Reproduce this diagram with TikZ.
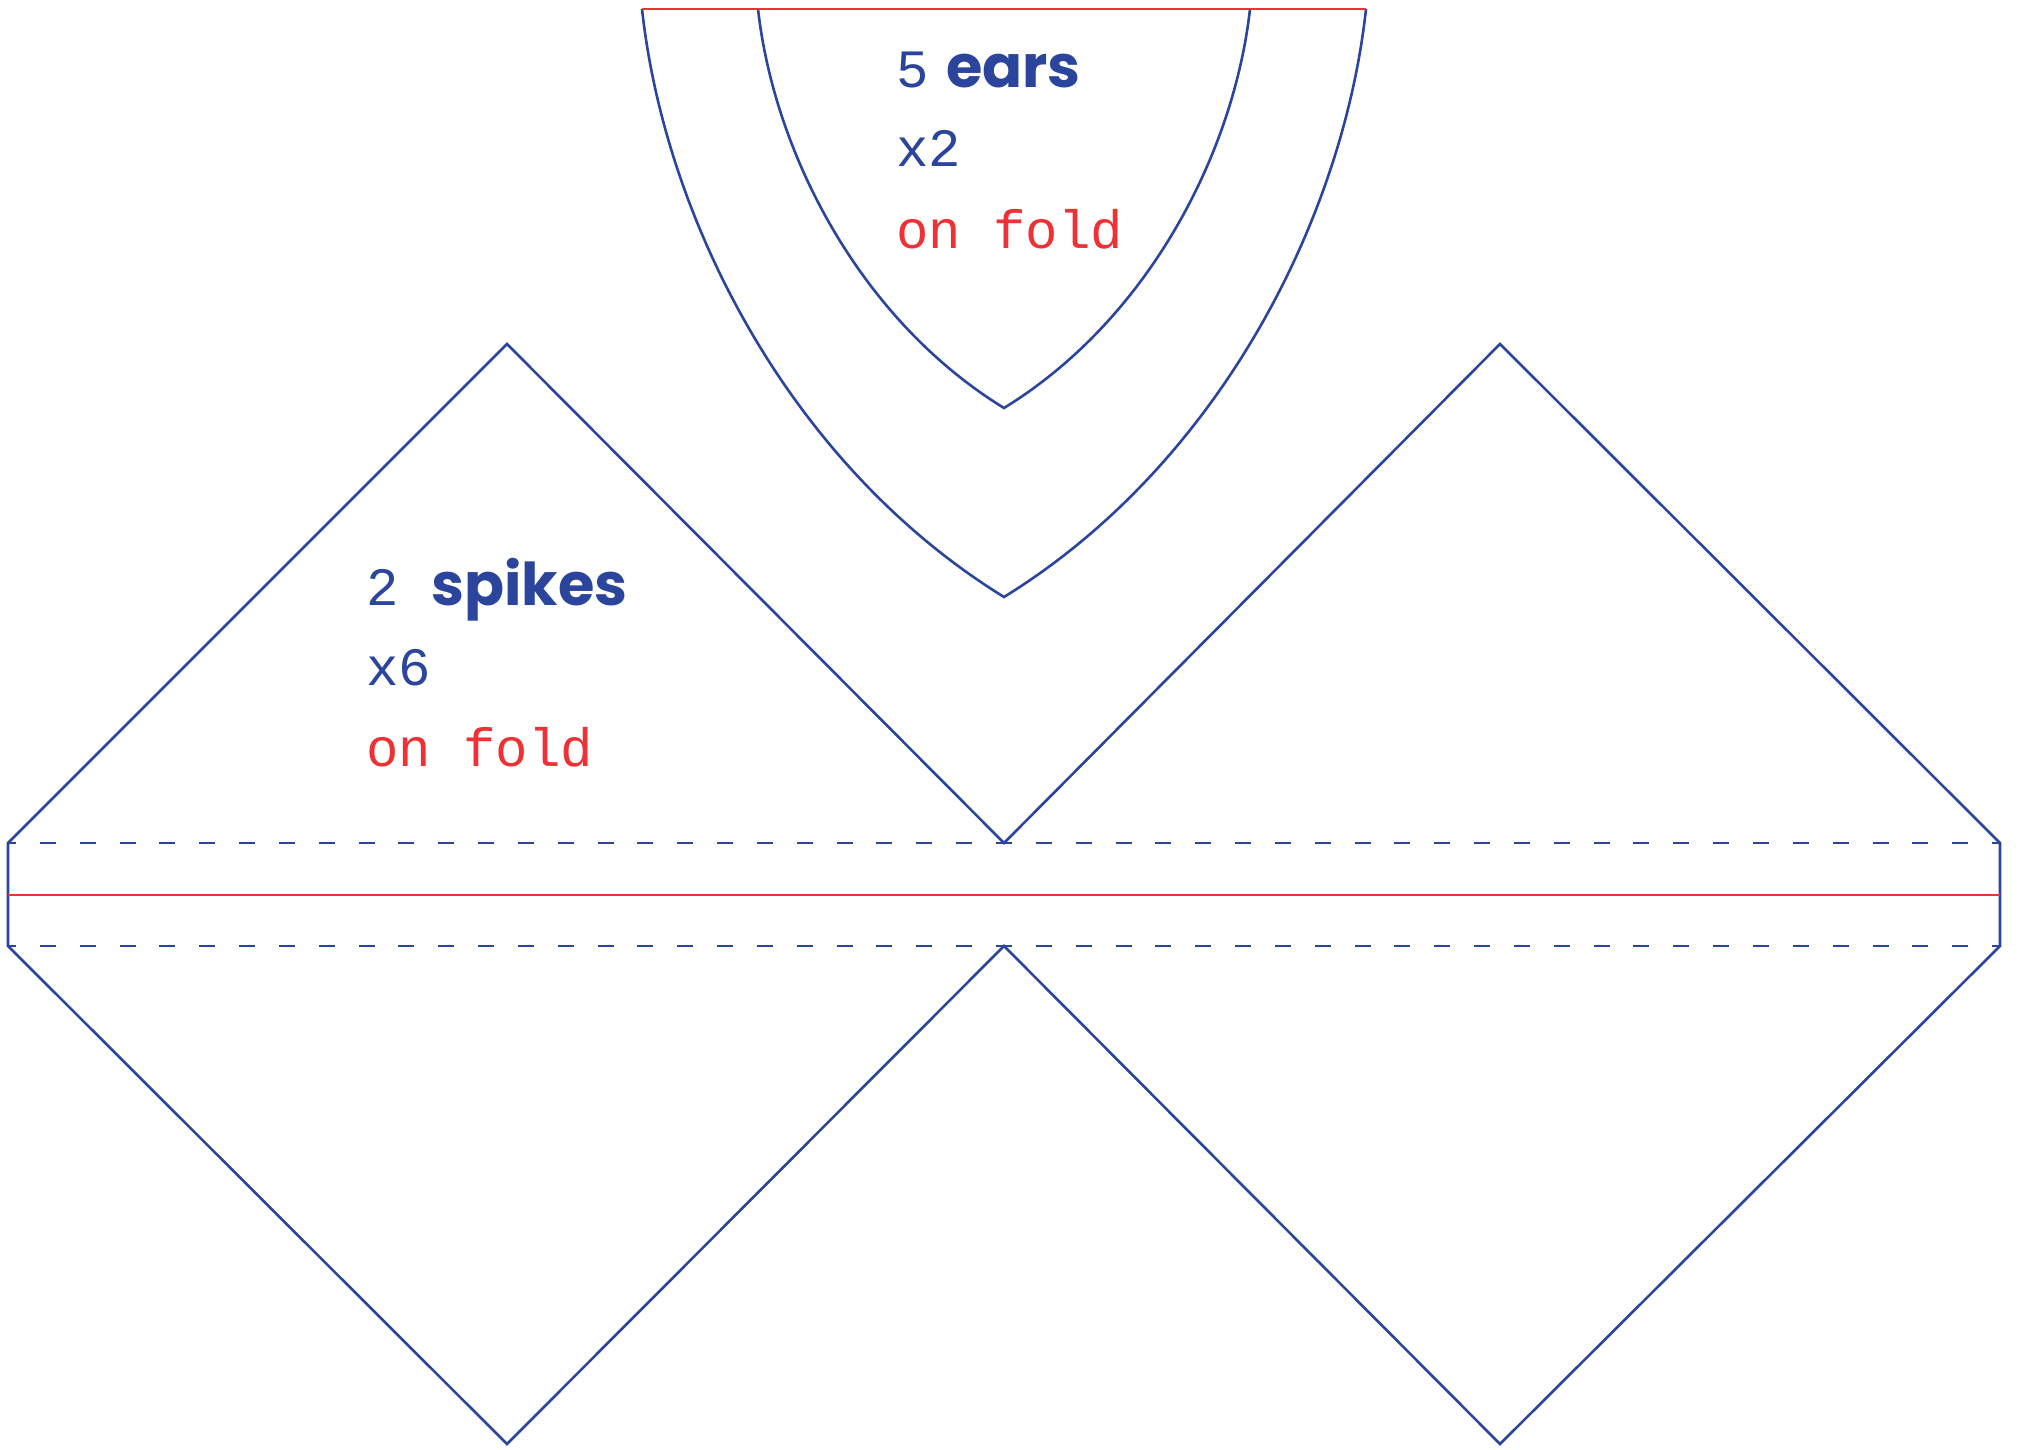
\documentclass[tikz,border=0pt]{standalone}
\usepackage{fontspec}
\setmonofont{Liberation Mono}
\newfontfamily\headfont{Poppins}
\definecolor{patblue}{HTML}{2B459C}
\definecolor{patred}{HTML}{EE3135}
\tikzset{
	cutline/.style={patblue, line width=2.6pt, line join=miter},
	foldline/.style={patred, line width=2.6pt},
	seamline/.style={patblue, line width=2.6pt, dash pattern=on 16pt off 23.84pt, dash phase=8pt},
	numtext/.style={anchor=base west, inner sep=0pt, patblue, font=\fontsize{54}{54}\selectfont\ttfamily},
	headtext/.style={anchor=base west, inner sep=0pt, patblue, font=\fontsize{59}{59}\selectfont\headfont\bfseries},
	foldtext/.style={anchor=base west, inner sep=0pt, patred, font=\fontsize{54}{54}\selectfont\ttfamily}
}
\begin{document}
\begin{tikzpicture}[x=1pt, y=-1pt]
	\useasboundingbox (0,0) rectangle (2022,1450);
	
	% ears
	\draw [cutline] (642,9) .. controls (665,220) and (790,465) .. (1004,597) .. controls (1218,465) and (1343,220) .. (1366,9);
	\draw [cutline] (758,9) .. controls (774,152) and (859,319) .. (1004,408) .. controls (1149,319) and (1234,152) .. (1250,9);
	\draw [foldline] (642,9) -- (1366,9);
	
	\node [numtext] (earsnum) at (896,88) {5};
	\node [headtext] (earshead) at (946,88) {ears};
	\node [numtext] (earscount) at (896,167) {x2};
	\node [foldtext] (earsfold) at (896,248) {on fold};
	
	% spikes
	\draw [cutline] (8,843) -- (507,344) -- (1004,843) -- (1500,344) -- (2000,843) -- (2000,946) -- (1500,1444) -- (1004,946) -- (507,1444) -- (8,946) -- cycle;
	\draw [seamline] (8,843) -- (2000,843);
	\draw [seamline] (8,946) -- (2000,946);
	\draw [foldline] (8,895) -- (2000,895);
	
	\node [numtext] (spikesnum) at (366,605) {2};
	\node [headtext] (spikeshead) at (431,605) {spikes};
	\node [numtext] (spikescount) at (366,685) {x6};
	\node [foldtext] (spikesfold) at (366,766) {on fold};
\end{tikzpicture}
\end{document}
